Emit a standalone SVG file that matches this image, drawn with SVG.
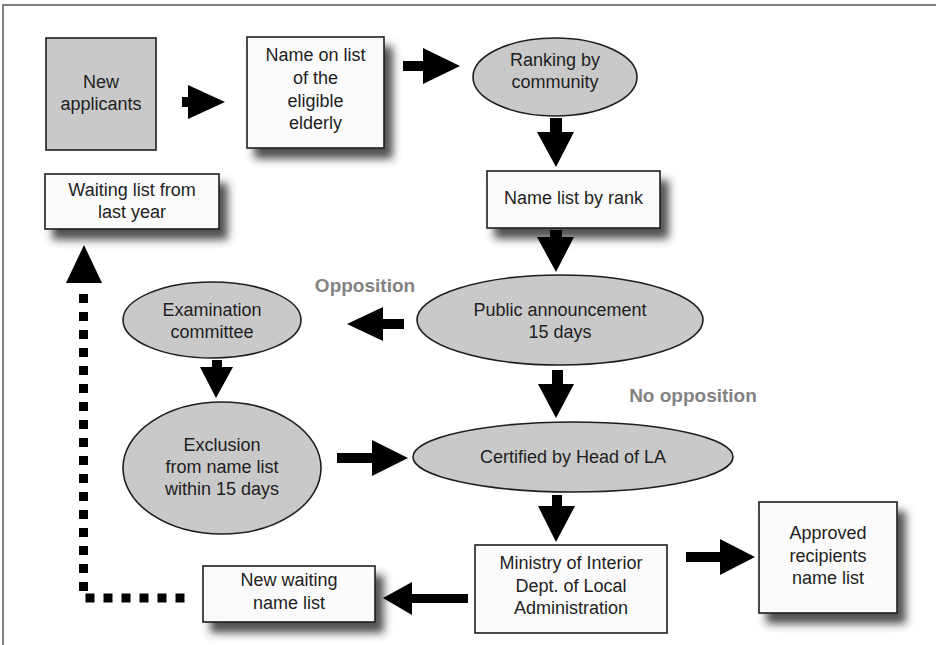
<svg xmlns="http://www.w3.org/2000/svg" width="936" height="645" viewBox="0 0 936 645">
<style>
.box{fill:#fbfbfb;stroke:#1e1e1e;stroke-width:1.6}
.gbox{fill:#c9c9c9;stroke:#1e1e1e;stroke-width:1.6}
.ell{fill:#c9c9c9;stroke:#1e1e1e;stroke-width:1.6}
.t{font-family:"Liberation Sans",Arial,sans-serif;font-size:18px;fill:#1e1e1e;text-anchor:middle}
.lbl{font-family:"Liberation Sans",Arial,sans-serif;font-size:19px;font-weight:bold;fill:#828282;text-anchor:middle}
.arr{fill:#000}
.sh{filter:url(#shadow)}
</style>
<defs>
<filter id="shadow" x="-20%" y="-20%" width="150%" height="170%">
<feDropShadow dx="8" dy="10" stdDeviation="4" flood-color="#333" flood-opacity="0.85"/>
</filter>
</defs>
<rect width="936" height="645" fill="#fff"/>
<path d="M3,645 V5 H936" fill="none" stroke="#555" stroke-width="1.5"/>

<g id="new-applicants"><rect class="gbox" x="46" y="38" width="110" height="112"/>
<text class="t" x="101" y="88">New</text><text class="t" x="101" y="110">applicants</text></g>

<g id="name-on-list"><rect class="box sh" x="247" y="37" width="137" height="111"/>
<text class="t" x="315.5" y="61">Name on list</text><text class="t" x="315.5" y="84">of the</text><text class="t" x="315.5" y="107">eligible</text><text class="t" x="315.5" y="129">elderly</text></g>

<g id="ranking"><ellipse class="ell" cx="555" cy="77" rx="82" ry="39"/>
<text class="t" x="555" y="66">Ranking by</text><text class="t" x="555" y="88">community</text></g>

<g id="name-list-rank"><rect class="box sh" x="487" y="171" width="173" height="57"/>
<text class="t" x="573.5" y="204">Name list by rank</text></g>

<g id="waiting-last-year"><rect class="box sh" x="45" y="174" width="174" height="55"/>
<text class="t" x="132" y="196">Waiting list from</text><text class="t" x="132" y="218">last year</text></g>

<g id="public-announcement"><ellipse class="ell" cx="560" cy="320" rx="143" ry="45"/>
<text class="t" x="560" y="316">Public announcement</text><text class="t" x="560" y="338">15 days</text></g>

<g id="examination"><ellipse class="ell" cx="212" cy="320" rx="89" ry="38"/>
<text class="t" x="212" y="316">Examination</text><text class="t" x="212" y="338">committee</text></g>

<g id="exclusion"><ellipse class="ell" cx="222" cy="468" rx="99" ry="66"/>
<text class="t" x="222" y="451">Exclusion</text><text class="t" x="222" y="473">from name list</text><text class="t" x="222" y="495">within 15 days</text></g>

<g id="certified"><ellipse class="ell" cx="573" cy="457" rx="160" ry="35"/>
<text class="t" x="573" y="463">Certified by Head of LA</text></g>

<g id="ministry"><rect class="box" x="475" y="545" width="192" height="88"/>
<text class="t" x="571" y="569">Ministry of Interior</text><text class="t" x="571" y="592">Dept. of Local</text><text class="t" x="571" y="614">Administration</text></g>

<g id="approved"><rect class="box sh" x="759" y="502" width="138" height="111"/>
<text class="t" x="828" y="539">Approved</text><text class="t" x="828" y="562">recipients</text><text class="t" x="828" y="584">name list</text></g>

<g id="new-waiting"><rect class="box sh" x="203" y="566" width="172" height="56"/>
<text class="t" x="289" y="586">New waiting</text><text class="t" x="289" y="609">name list</text></g>

<text class="lbl" x="365" y="292">Opposition</text>
<text class="lbl" x="693" y="402">No opposition</text>

<g id="connectors">
<polygon class="arr" points="182,97 188,97 188,85 225,102 188,119 188,107 182,107"/>
<polygon class="arr" points="403,61 423,61 423,48 460,66 423,84 423,71 403,71"/>
<polygon class="arr" points="550,118 562,118 562,132 574,132 556,167 537,132 550,132"/>
<polygon class="arr" points="550,230 562,230 562,237 574,237 556,272 537,237 550,237"/>
<polygon class="arr" points="552,370 563,370 563,384 574,384 556,418 538,384 552,384"/>
<polygon class="arr" points="552,495 562,495 562,506 575,506 556,542 538,506 552,506"/>
<polygon class="arr" points="686,552 720,552 720,539 755,557 720,575 720,562 686,562"/>
<polygon class="arr" points="468,594 412,594 412,582 383,598 412,615 412,603 468,603"/>
<polygon class="arr" points="404,319 383,319 383,307 347,324 383,341 383,329 404,329"/>
<polygon class="arr" points="212,360 222,360 222,367 233,367 216,398 200,367 212,367"/>
<polygon class="arr" points="337,453 372,453 372,440 408,458 372,476 372,463 337,463"/>
<path d="M83.5,294 V598 H189" fill="none" stroke="#000" stroke-width="9" stroke-dasharray="9 9"/>
<polygon class="arr" points="66,283 102,283 84,245"/>
</g>
</svg>
